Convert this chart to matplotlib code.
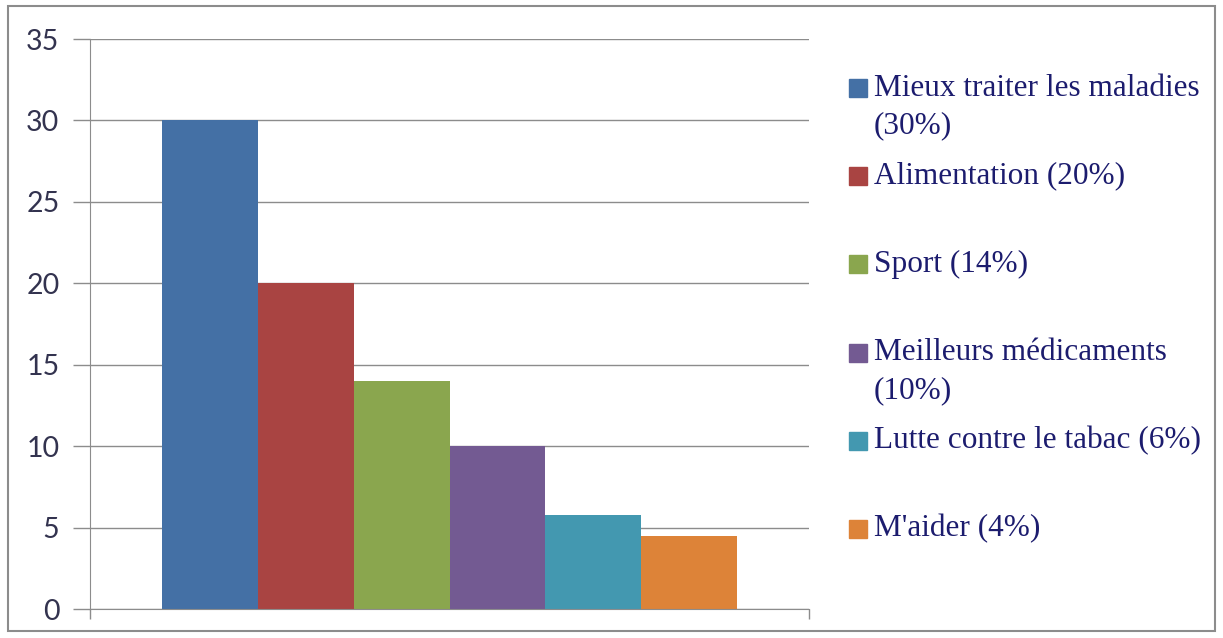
import matplotlib
matplotlib.use("Agg")
import matplotlib.pyplot as plt
from matplotlib.patches import Rectangle

# data
categories = ["Mieux traiter les maladies", "Alimentation", "Sport",
              "Meilleurs médicaments", "Lutte contre le tabac", "M'aider"]
values = [30, 20, 14, 10, 5.8, 4.5]
pct_labels = [30, 20, 14, 10, 6, 4]
# entries whose legend text wraps onto a second line
wrapped = [True, False, False, True, False, False]
yticks = [0, 5, 10, 15, 20, 25, 30, 35]

colors = ["#4470a5", "#a94442", "#8aa64e", "#735a92", "#4398b0", "#dd8338"]

W, H = 1223, 638
fig = plt.figure(figsize=(W / 100, H / 100), dpi=100)
ax = fig.add_axes([90 / W, 1 - 609 / H, (809 - 90) / W, (609 - 39) / H])

ax.bar(range(len(values)), values, width=1.0, color=colors, zorder=2)
ax.set_xlim(-1.25, 6.25)
ax.set_ylim(0, 35)
ax.set_yticks(yticks)
ax.set_yticklabels([str(t) for t in yticks], fontsize=20.5, family="Lato", color="#33334f")
ax.tick_params(axis="y", length=12, color="#8c8c8c", width=1, pad=10)
ax.set_xticks([-1.25, 6.25])
ax.set_xticklabels(["", ""])
ax.tick_params(axis="x", length=7, color="#8c8c8c", width=1)
ax.grid(axis="y", color="#8c8c8c", lw=1, zorder=0)
for s in ["top", "right"]:
    ax.spines[s].set_visible(False)
ax.spines["left"].set_color("#8c8c8c")
ax.spines["bottom"].set_color("#8c8c8c")

# legend drawn by hand: first-line centres in pixels
y0, step, line_gap = 88, 88.2, 38
for i, (name, pct) in enumerate(zip(categories, pct_labels)):
    yc = y0 + i * step
    fig.patches.append(Rectangle((849 / W, 1 - (yc + 9) / H), 18 / W, 18 / H,
                                 transform=fig.transFigure, color=colors[i]))
    lines = [name, f"({pct}%)"] if wrapped[i] else [f"{name} ({pct}%)"]
    for k, line in enumerate(lines):
        fig.text(874 / W, 1 - (yc + k * line_gap) / H, line, ha="left", va="center",
                 fontsize=22.5, family="Liberation Serif", color="#1c1c6e")

# outer chart border
fig.patches.append(Rectangle((8 / W, 1 - 631 / H), (1215 - 8) / W, (631 - 6) / H,
                             transform=fig.transFigure, fill=False,
                             edgecolor="#8c8c8c", lw=1.5))

fig.savefig("out.png", dpi=100)
